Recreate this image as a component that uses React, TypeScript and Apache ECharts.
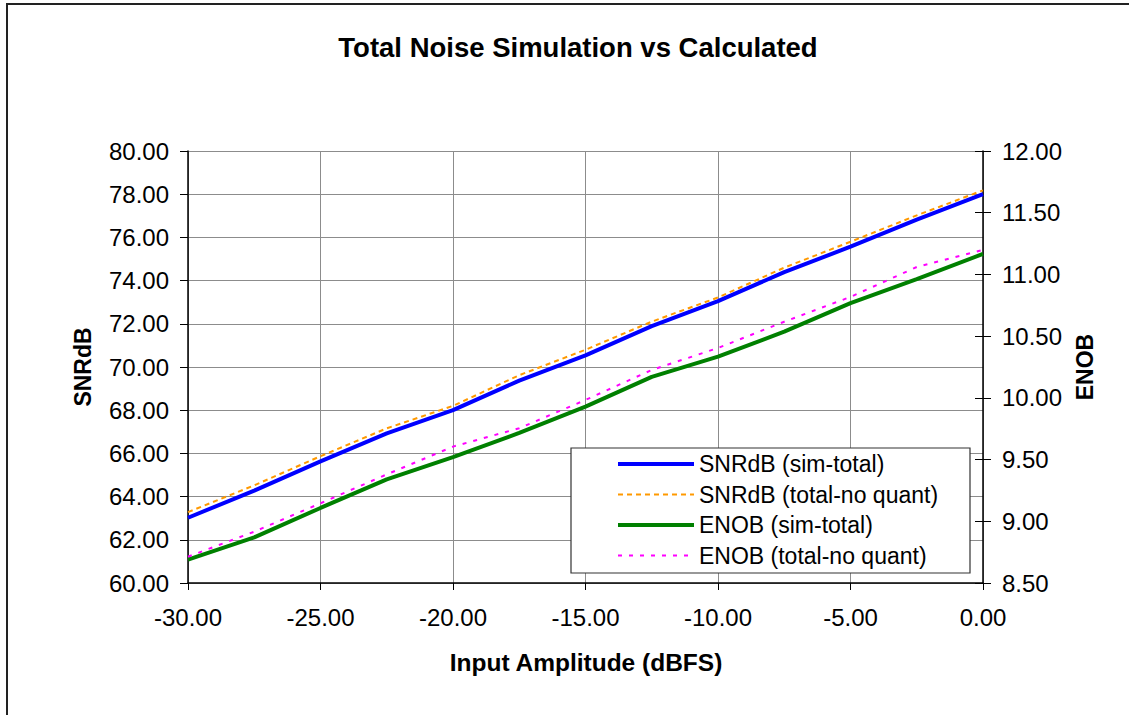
import React, { useEffect, useRef } from "react";
import * as echarts from "echarts";

const inputDbfs = [-30, -27.5, -25, -22.5, -20, -17.5, -15, -12.5, -10, -7.5, -5, -2.5, 0];
const snrSimTotal = [63.02, 64.28, 65.63, 66.93, 68.0, 69.37, 70.54, 71.89, 73.05, 74.39, 75.57, 76.82, 78.0];
const snrTotalNoQuant = [63.28, 64.52, 65.87, 67.16, 68.2, 69.62, 70.8, 72.1, 73.22, 74.6, 75.8, 77.02, 78.18];
const enobSimTotal = [8.69, 8.87, 9.108, 9.34, 9.52, 9.716, 9.929, 10.17, 10.334, 10.536, 10.767, 10.961, 11.166];
const enobTotalNoQuant = [8.713, 8.916, 9.146, 9.38, 9.605, 9.754, 9.983, 10.226, 10.404, 10.617, 10.818, 11.06, 11.198];

const seriesNames = [
  "SNRdB (sim-total)",
  "SNRdB (total-no quant)",
  "ENOB (sim-total)",
  "ENOB (total-no quant)",
];
const titleText = "Total Noise Simulation vs Calculated";
const xTitle = "Input Amplitude (dBFS)";
const yLeftTitle = "SNRdB";
const yRightTitle = "ENOB";

const FONT = "'Liberation Sans', Arial, sans-serif";

export default function App() {
  const ref = useRef<HTMLDivElement>(null);
  useEffect(() => {
    document.body.style.margin = "0";
    if (!ref.current) return;
    const chart = echarts.init(ref.current, undefined, { renderer: "svg" });
    const pairs = (vals: number[]) => inputDbfs.map((x, i) => [x, vals[i]]);
    const labelStyle = { fontFamily: FONT, fontSize: 24, color: "#000" };
    const legendWidths = [4, 2, 4, 2];
    const option: any = {
      animation: false,
      backgroundColor: "#ffffff",
      title: {
        text: titleText,
        left: 573,
        top: 28,
        textAlign: "center",
        textStyle: { fontFamily: FONT, fontSize: 27.5, fontWeight: "bold", color: "#000" },
      },
      grid: { left: 188, right: 146, top: 151, bottom: 132, containLabel: false },
      xAxis: {
        type: "value",
        min: -30,
        max: 0,
        interval: 5,
        axisLine: { onZero: false, lineStyle: { color: "#000", width: 1.5 } },
        axisTick: { length: 7, lineStyle: { color: "#000", width: 1 } },
        axisLabel: { ...labelStyle, margin: 22, formatter: (v: number) => v.toFixed(2) },
        splitLine: { show: true, lineStyle: { color: "#8c8c8c", width: 1 } },
      },
      yAxis: [
        {
          type: "value",
          position: "left",
          min: 60,
          max: 80,
          interval: 2,
          axisLine: { show: true, onZero: false, lineStyle: { color: "#000", width: 1.5 } },
          axisTick: { show: true, length: 8, lineStyle: { color: "#000", width: 1 } },
          axisLabel: { ...labelStyle, margin: 19, formatter: (v: number) => v.toFixed(2) },
          splitLine: { show: true, lineStyle: { color: "#8c8c8c", width: 1 } },
        },
        {
          type: "value",
          position: "right",
          min: 8.5,
          max: 12,
          interval: 0.5,
          axisLine: { show: true, onZero: false, lineStyle: { color: "#000", width: 1.5 } },
          axisTick: { show: true, length: 8, lineStyle: { color: "#000", width: 1 } },
          axisLabel: { ...labelStyle, margin: 19, formatter: (v: number) => v.toFixed(2) },
          splitLine: { show: false },
        },
        {
          type: "value",
          position: "right",
          min: 8.5,
          max: 12,
          interval: 0.5,
          axisLine: { show: false },
          axisTick: { show: true, inside: true, length: 8, lineStyle: { color: "#000", width: 1 } },
          axisLabel: { show: false },
          splitLine: { show: false },
        },
      ],
      legend: {
        orient: "vertical",
        left: 616,
        top: 452.5,
        padding: 0,
        itemWidth: 76,
        itemHeight: 23,
        itemGap: 7.5,
        itemTextGap: 5,
        data: seriesNames.map((name, i) => ({ name, lineStyle: { width: legendWidths[i] } })),
        itemStyle: { opacity: 0 },
        textStyle: { fontFamily: FONT, fontSize: 23, lineHeight: 23, color: "#000" },
        z: 10,
      },
      graphic: [
        {
          type: "rect",
          z: 3,
          shape: { x: 571, y: 448, width: 399, height: 125 },
          style: { fill: "#ffffff", stroke: "#333", lineWidth: 1.2 },
        },
        {
          type: "rect",
          z: 3,
          shape: { x: 7, y: 4, width: 1400, height: 1000 },
          style: { fill: "none", stroke: "#222", lineWidth: 2 },
        },
        {
          type: "text",
          x: 83,
          y: 367,
          rotation: Math.PI / 2,
          style: {
            text: yLeftTitle,
            align: "center",
            verticalAlign: "middle",
            fontFamily: FONT,
            fontSize: 23,
            fontWeight: "bold",
            fill: "#000",
          },
        },
        {
          type: "text",
          x: 1085,
          y: 367,
          rotation: Math.PI / 2,
          style: {
            text: yRightTitle,
            align: "center",
            verticalAlign: "middle",
            fontFamily: FONT,
            fontSize: 23,
            fontWeight: "bold",
            fill: "#000",
          },
        },
        {
          type: "text",
          x: 586,
          y: 662,
          style: {
            text: xTitle,
            align: "center",
            verticalAlign: "middle",
            fontFamily: FONT,
            fontSize: 24.5,
            fontWeight: "bold",
            fill: "#000",
          },
        },
      ],
      series: [
        {
          name: seriesNames[0],
          type: "line",
          yAxisIndex: 0,
          data: pairs(snrSimTotal),
          showSymbol: false,
          symbol: "none",
          lineStyle: { color: "#0000ff", width: 4 },
          itemStyle: { color: "#0000ff" },
          z: 3,
        },
        {
          name: seriesNames[1],
          type: "line",
          yAxisIndex: 0,
          data: pairs(snrTotalNoQuant),
          showSymbol: false,
          symbol: "none",
          lineStyle: { color: "#ff9900", width: 2, type: [5, 4] },
          itemStyle: { color: "#ff9900" },
          z: 4,
        },
        {
          name: seriesNames[2],
          type: "line",
          yAxisIndex: 1,
          data: pairs(enobSimTotal),
          showSymbol: false,
          symbol: "none",
          lineStyle: { color: "#008000", width: 4 },
          itemStyle: { color: "#008000" },
          z: 3,
        },
        {
          name: seriesNames[3],
          type: "line",
          yAxisIndex: 1,
          data: pairs(enobTotalNoQuant),
          showSymbol: false,
          symbol: "none",
          lineStyle: { color: "#ff00ff", width: 2, type: [4, 7] },
          itemStyle: { color: "#ff00ff" },
          z: 4,
        },
      ],
    };
    chart.setOption(option);
    return () => chart.dispose();
  }, []);
  return <div ref={ref} style={{ width: 1129, height: 715 }} />;
}
